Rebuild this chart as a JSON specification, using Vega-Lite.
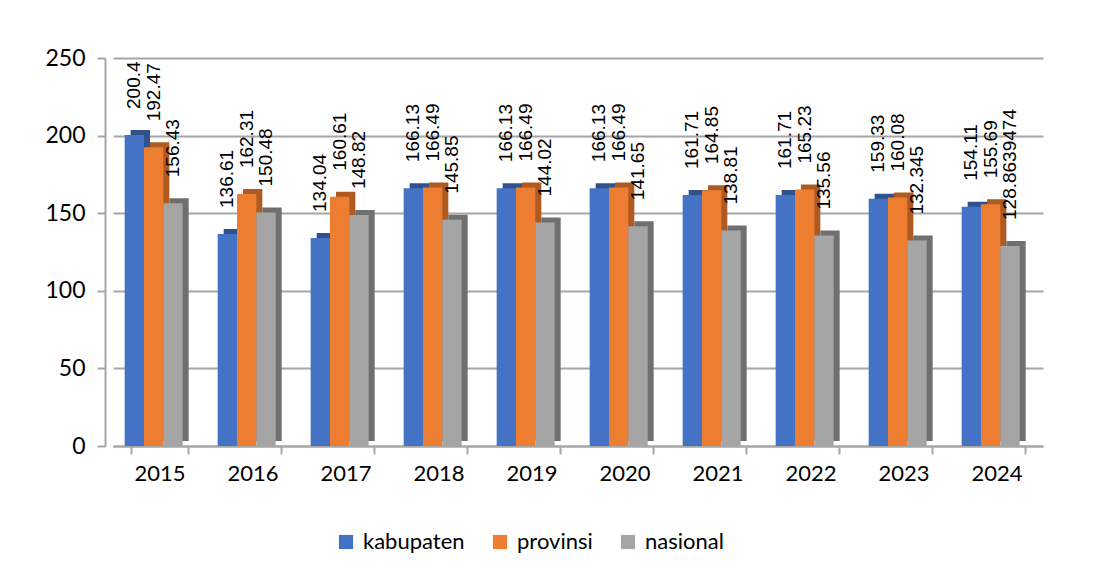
{
  "$schema": "https://vega.github.io/schema/vega-lite/v6.json",
  "width": 930,
  "height": 388,
  "autosize": {"type": "none"},
  "padding": {"left": 113, "top": 58, "right": 67, "bottom": 132},
  "background": "white",
  "data": {
    "values": [
      {"tahun": "2015", "seri": "kabupaten", "nilai": 200.4},
      {"tahun": "2015", "seri": "provinsi", "nilai": 192.47},
      {"tahun": "2015", "seri": "nasional", "nilai": 156.43},
      {"tahun": "2016", "seri": "kabupaten", "nilai": 136.61},
      {"tahun": "2016", "seri": "provinsi", "nilai": 162.31},
      {"tahun": "2016", "seri": "nasional", "nilai": 150.48},
      {"tahun": "2017", "seri": "kabupaten", "nilai": 134.04},
      {"tahun": "2017", "seri": "provinsi", "nilai": 160.61},
      {"tahun": "2017", "seri": "nasional", "nilai": 148.82},
      {"tahun": "2018", "seri": "kabupaten", "nilai": 166.13},
      {"tahun": "2018", "seri": "provinsi", "nilai": 166.49},
      {"tahun": "2018", "seri": "nasional", "nilai": 145.85},
      {"tahun": "2019", "seri": "kabupaten", "nilai": 166.13},
      {"tahun": "2019", "seri": "provinsi", "nilai": 166.49},
      {"tahun": "2019", "seri": "nasional", "nilai": 144.02},
      {"tahun": "2020", "seri": "kabupaten", "nilai": 166.13},
      {"tahun": "2020", "seri": "provinsi", "nilai": 166.49},
      {"tahun": "2020", "seri": "nasional", "nilai": 141.65},
      {"tahun": "2021", "seri": "kabupaten", "nilai": 161.71},
      {"tahun": "2021", "seri": "provinsi", "nilai": 164.85},
      {"tahun": "2021", "seri": "nasional", "nilai": 138.81},
      {"tahun": "2022", "seri": "kabupaten", "nilai": 161.71},
      {"tahun": "2022", "seri": "provinsi", "nilai": 165.23},
      {"tahun": "2022", "seri": "nasional", "nilai": 135.56},
      {"tahun": "2023", "seri": "kabupaten", "nilai": 159.33},
      {"tahun": "2023", "seri": "provinsi", "nilai": 160.08},
      {"tahun": "2023", "seri": "nasional", "nilai": 132.345},
      {"tahun": "2024", "seri": "kabupaten", "nilai": 154.11},
      {"tahun": "2024", "seri": "provinsi", "nilai": 155.69},
      {"tahun": "2024", "seri": "nasional", "nilai": 128.8639474}
    ]
  },
  "encoding": {
    "x": {
      "field": "tahun",
      "type": "nominal",
      "scale": {"paddingInner": 0.38, "paddingOuter": 0.19},
      "axis": {
        "title": null,
        "labelAngle": 0,
        "labelFont": "Lato",
        "labelFontSize": 22,
        "labelColor": "#000000",
        "labelPadding": 9,
        "domainColor": "#a6a6a6",
        "domainWidth": 2,
        "tickColor": "#a6a6a6",
        "tickWidth": 2,
        "tickSize": 8,
        "tickBand": "extent",
        "grid": false
      }
    },
    "y": {
      "field": "nilai",
      "type": "quantitative",
      "scale": {"domain": [0, 250], "nice": false},
      "axis": {
        "title": null,
        "values": [0, 50, 100, 150, 200, 250],
        "labelFont": "Lato",
        "labelFontSize": 23,
        "labelColor": "#000000",
        "labelPadding": 12,
        "offset": 8,
        "tickSize": 8,
        "tickColor": "#a6a6a6",
        "tickWidth": 2,
        "domainColor": "#a6a6a6",
        "domainWidth": 2,
        "grid": true,
        "gridColor": "#a6a6a6",
        "gridWidth": 2
      }
    }
  },
  "layer": [
    {
      "mark": {"type": "bar", "yOffset": -5, "y2Offset": -5},
      "encoding": {
        "xOffset": {"field": "seri", "type": "nominal", "sort": ["kabupaten", "provinsi", "nasional"], "scale": {"range": [0, 58]}},
        "color": {
          "field": "seri",
          "type": "nominal",
          "sort": ["kabupaten", "provinsi", "nasional"],
          "scale": {"domain": ["kabupaten", "provinsi", "nasional"], "range": ["#2f528f", "#ae5a21", "#6f6f6f"]},
          "legend": null
        }
      }
    },
    {
      "mark": {"type": "bar"},
      "encoding": {
        "xOffset": {"field": "seri", "type": "nominal", "sort": ["kabupaten", "provinsi", "nasional"], "scale": {"range": [-6, 52]}},
        "color": {
          "field": "seri",
          "type": "nominal",
          "sort": ["kabupaten", "provinsi", "nasional"],
          "scale": {"domain": ["kabupaten", "provinsi", "nasional"], "range": ["#4472c4", "#ed7d31", "#a5a5a5"]},
          "legend": {
            "title": null,
            "orient": "none",
            "legendX": 222,
            "legendY": 473,
            "direction": "horizontal",
            "symbolType": "square",
            "symbolSize": 200,
            "symbolStrokeWidth": 0,
            "labelFont": "Lato",
            "labelFontSize": 22,
            "labelColor": "#000000",
            "columnPadding": 24,
            "labelOffset": 6
          }
        }
      }
    },
    {
      "mark": {"type": "text", "angle": 270, "align": "left", "baseline": "middle", "dx": 26, "font": "Liberation Sans", "fontSize": 19, "color": "#000000"},
      "encoding": {
        "xOffset": {"field": "seri", "type": "nominal", "sort": ["kabupaten", "provinsi", "nasional"], "scale": {"range": [-6, 52]}},
        "text": {"field": "nilai", "type": "nominal"}
      }
    }
  ],
  "resolve": {"scale": {"xOffset": "independent", "color": "independent"}},
  "config": {"view": {"stroke": null}}
}
